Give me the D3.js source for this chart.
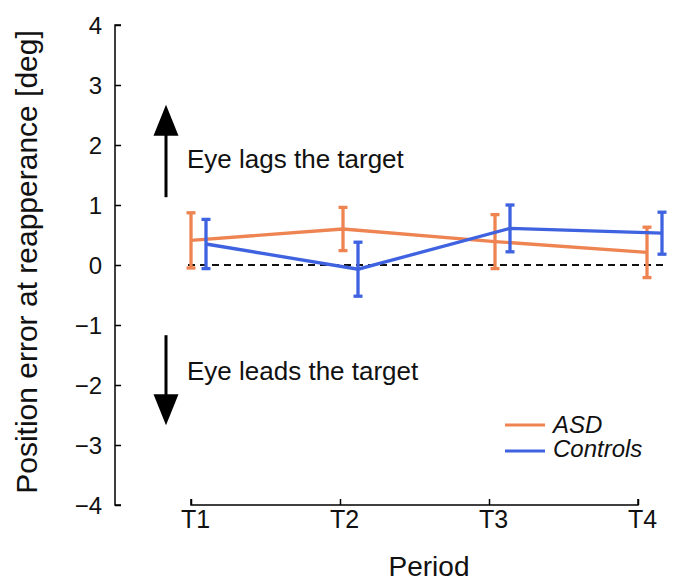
<!DOCTYPE html>
<html>
<head>
<meta charset="utf-8">
<script src="https://cdn.jsdelivr.net/npm/d3@7"></script>
<style>
  body { margin: 0; background: #fff; }
  svg text { font-family: "Liberation Sans", Arial, Helvetica, sans-serif; fill: #111; }
</style>
</head>
<body>
<svg id="chart" width="673" height="581"></svg>
<script>
// periods on the x axis
const periods = ["T1", "T2", "T3", "T4"];
const yTicks = [-4, -3, -2, -1, 0, 1, 2, 3, 4];

// mean position error and error bar half-widths (deg)
const asdMean = [0.41, 0.60, 0.39, 0.21];
const asdErr = [0.46, 0.36, 0.45, 0.42];
const ctrlMean = [0.35, -0.07, 0.61, 0.53];
const ctrlErr = [0.41, 0.45, 0.39, 0.35];

const seriesNames = ["ASD", "Controls"];
const seriesColors = ["#ee8452", "#3f63e0"];

const svg = d3.select("#chart");

// axis scale and data scale (data points are spread slightly wider than the ticks)
const xAxisScale = d3.scalePoint().domain(periods).range([191, 638]);
const x = d3.scaleLinear().domain([0, 3]).range([191, 647]);
const y = d3.scaleLinear().domain([-4, 4]).range([505, 25]);

// Y axis, ticks pointing inward
const yAxis = svg.append("g")
  .attr("transform", "translate(115,0)")
  .call(d3.axisRight(y).tickValues(yTicks).tickSize(6).tickFormat(d => d < 0 ? "\u2212" + Math.abs(d) : d));
yAxis.select(".domain").attr("stroke-width", 1.5).attr("d", "M6,25H0V505H6");
yAxis.selectAll(".tick line").attr("stroke-width", 1.5);
yAxis.selectAll(".tick text")
  .attr("x", -13).attr("text-anchor", "end").attr("dy", "0.36em")
  .style("font-size", "24px");

// X axis, ticks pointing up
const xAxis = svg.append("g")
  .attr("transform", "translate(0,505)")
  .call(d3.axisTop(xAxisScale).tickSize(6));
xAxis.select(".domain").attr("stroke-width", 1.5).attr("d", "M191,-6V0H638V-6");
xAxis.selectAll(".tick line").attr("stroke-width", 1.5);
xAxis.selectAll(".tick text")
  .attr("y", 23).attr("dy", "0em").attr("dx", 4)
  .style("font-size", "25px");

// axis titles
svg.append("text")
  .attr("x", 429).attr("y", 576)
  .attr("text-anchor", "middle")
  .style("font-size", "28px")
  .text("Period");

svg.append("text")
  .attr("transform", "translate(37,262) rotate(-90)")
  .attr("text-anchor", "middle")
  .style("font-size", "30px")
  .text("Position error at reapperance [deg]");

// zero reference line
svg.append("line")
  .attr("x1", 188).attr("x2", 668)
  .attr("y1", y(0)).attr("y2", y(0))
  .attr("stroke", "#111").attr("stroke-width", 2)
  .attr("stroke-dasharray", "7,5");

// direction arrows and notes
function arrow(yFrom, yTo) {
  const y0 = y(yFrom), tip = y(yTo);
  const dir = tip < y0 ? -1 : 1;
  svg.append("line")
    .attr("x1", 166).attr("x2", 166)
    .attr("y1", y0).attr("y2", tip - dir * 20)
    .attr("stroke", "#000").attr("stroke-width", 3);
  svg.append("path")
    .attr("d", `M166,${tip} L153.5,${tip - dir * 31} L178.5,${tip - dir * 31} Z`)
    .attr("fill", "#000");
}
arrow(1.13, 2.67);
arrow(-1.17, -2.67);

svg.append("text").attr("x", 187).attr("y", 168)
  .style("font-size", "26px").text("Eye lags the target");
svg.append("text").attr("x", 187).attr("y", 380)
  .style("font-size", "26px").text("Eye leads the target");

// series
const series = [
  {name: seriesNames[0], mean: asdMean, err: asdErr, color: seriesColors[0], dx: 0},
  {name: seriesNames[1], mean: ctrlMean, err: ctrlErr, color: seriesColors[1], dx: 15}
];

const line = d3.line();

series.forEach(s => {
  const g = svg.append("g");
  const pts = s.mean.map((m, i) => [x(i) + s.dx, y(m)]);
  g.append("path")
    .attr("d", line(pts))
    .attr("fill", "none")
    .attr("stroke", s.color)
    .attr("stroke-width", 3.3);

  s.mean.forEach((m, i) => {
    const cx = x(i) + s.dx;
    const top = y(m + s.err[i]);
    const bot = y(m - s.err[i]);
    g.append("line").attr("x1", cx).attr("x2", cx).attr("y1", top).attr("y2", bot)
      .attr("stroke", s.color).attr("stroke-width", 3.3);
    [top, bot].forEach(yy => {
      g.append("line").attr("x1", cx - 4.5).attr("x2", cx + 4.5).attr("y1", yy).attr("y2", yy)
        .attr("stroke", s.color).attr("stroke-width", 3.3);
    });
  });
});

// legend
const legend = svg.append("g").attr("transform", "translate(505,425)");
series.forEach((s, i) => {
  legend.append("line")
    .attr("x1", 0).attr("x2", 40)
    .attr("y1", i * 26).attr("y2", i * 26)
    .attr("stroke", s.color).attr("stroke-width", 3);
  legend.append("text")
    .attr("x", 48).attr("y", i * 24 + 8)
    .style("font-size", "24px").style("font-style", "italic")
    .text(s.name);
});
</script>
</body>
</html>
